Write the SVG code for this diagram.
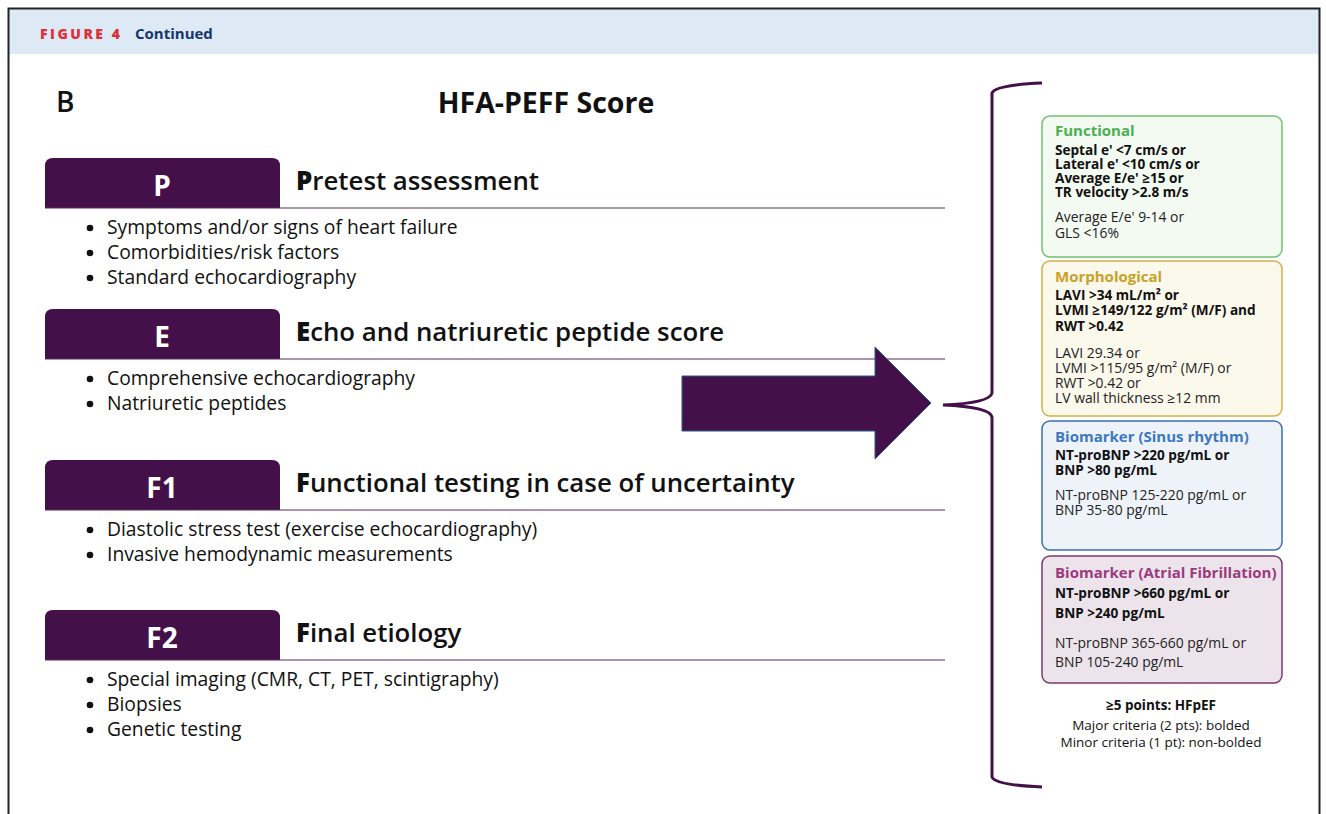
<svg xmlns="http://www.w3.org/2000/svg" width="1326" height="814" viewBox="0 0 1326 814">
<style>
.tab{fill:#43104a}
.rule{stroke:#5a2a5e;stroke-width:1.2}
.dot{fill:#111}
.tabl{font-family:"Open Sans",Lato,sans-serif;font-weight:700;font-size:28px;fill:#fff;text-anchor:middle}
.head{font-family:"Open Sans",Lato,sans-serif;font-size:25.8px;fill:#111;font-weight:600}
.head tspan.b{font-weight:800}
.bul{font-family:"Open Sans",Lato,sans-serif;font-size:19.3px;fill:#111;font-weight:500}
.bt{font-family:"Open Sans",Lato,sans-serif;font-size:13.6px;fill:#111;font-weight:700}
.nt{font-family:"Open Sans",Lato,sans-serif;font-size:13.9px;fill:#222;font-weight:400}
.ttl{font-family:"Open Sans",Lato,sans-serif;font-size:15px;font-weight:700}
.foot{font-family:"Open Sans",Lato,sans-serif;font-size:13.5px;fill:#111;text-anchor:middle}
</style>
<rect x="0" y="0" width="1326" height="814" fill="#fff"/>
<rect x="9" y="9" width="1310" height="45" fill="#dde9f5"/>
<rect x="8.5" y="8.5" width="1311" height="830" fill="none" stroke="#222" stroke-width="2"/>
<text x="40" y="39" font-family="'Open Sans',Lato,sans-serif" font-size="14" font-weight="800" letter-spacing="2.5" fill="#e0303a">FIGURE 4</text>
<text x="135" y="39" font-family="'Open Sans',Lato,sans-serif" font-size="15" font-weight="700" fill="#14366b">Continued</text>
<text x="56" y="112" font-family="'Open Sans',Lato,sans-serif" font-size="28" font-weight="600" fill="#111">B</text>
<text x="546" y="113" font-family="'Open Sans',Lato,sans-serif" font-size="28.5" font-weight="700" fill="#111" text-anchor="middle">HFA-PEFF Score</text>

<g id="sec-P">
<path class="tab" d="M45,208 V166 Q45,158 53,158 H272 Q280,158 280,166 V208 Z"/>
<line class="rule" x1="45" y1="208" x2="945" y2="208"/>
<text class="tabl" x="162" y="196">P</text>
<text class="head" x="296" y="190"><tspan class="b">P</tspan>retest assessment</text>
<circle class="dot" cx="90" cy="228" r="3.3"/><text class="bul" x="107" y="234">Symptoms and/or signs of heart failure</text>
<circle class="dot" cx="90" cy="253" r="3.3"/><text class="bul" x="107" y="259">Comorbidities/risk factors</text>
<circle class="dot" cx="90" cy="278" r="3.3"/><text class="bul" x="107" y="284">Standard echocardiography</text>
</g>
<g id="sec-E">
<path class="tab" d="M45,359 V317 Q45,309 53,309 H272 Q280,309 280,317 V359 Z"/>
<line class="rule" x1="45" y1="359" x2="945" y2="359"/>
<text class="tabl" x="162" y="347">E</text>
<text class="head" x="296" y="341"><tspan class="b">E</tspan>cho and natriuretic peptide score</text>
<circle class="dot" cx="90" cy="379" r="3.3"/><text class="bul" x="107" y="385">Comprehensive echocardiography</text>
<circle class="dot" cx="90" cy="404" r="3.3"/><text class="bul" x="107" y="410">Natriuretic peptides</text>
</g>
<g id="sec-F1">
<path class="tab" d="M45,510 V468 Q45,460 53,460 H272 Q280,460 280,468 V510 Z"/>
<line class="rule" x1="45" y1="510" x2="945" y2="510"/>
<text class="tabl" x="162" y="498">F1</text>
<text class="head" x="296" y="492"><tspan class="b">F</tspan>unctional testing in case of uncertainty</text>
<circle class="dot" cx="90" cy="530" r="3.3"/><text class="bul" x="107" y="536">Diastolic stress test (exercise echocardiography)</text>
<circle class="dot" cx="90" cy="555" r="3.3"/><text class="bul" x="107" y="561">Invasive hemodynamic measurements</text>
</g>
<g id="sec-F2">
<path class="tab" d="M45,660 V618 Q45,610 53,610 H272 Q280,610 280,618 V660 Z"/>
<line class="rule" x1="45" y1="660" x2="945" y2="660"/>
<text class="tabl" x="162" y="648">F2</text>
<text class="head" x="296" y="642"><tspan class="b">F</tspan>inal etiology</text>
<circle class="dot" cx="90" cy="680" r="3.3"/><text class="bul" x="107" y="686">Special imaging (CMR, CT, PET, scintigraphy)</text>
<circle class="dot" cx="90" cy="705" r="3.3"/><text class="bul" x="107" y="711">Biopsies</text>
<circle class="dot" cx="90" cy="730" r="3.3"/><text class="bul" x="107" y="736">Genetic testing</text>
</g>

<g id="connectors">
<path d="M682,376 H875 V347 L931,403 L875,459 V431 H682 Z" fill="#43104a" stroke="#2e5a8a" stroke-width="1"/>
<path d="M1042,83 Q995,85 992,93 V393 Q990,403 943,405 Q990,407 992,417 V777 Q995,785 1042,787" fill="none" stroke="#43104a" stroke-width="3"/>
</g>

<g id="box-functional">
<rect x="1042" y="116" width="240" height="141" rx="8" fill="#f3faf2" stroke="#72c072" stroke-width="1.5"/>
<text class="ttl" x="1055" y="136" fill="#4caf50">Functional</text>
<text class="bt" x="1055" y="155">Septal e' &lt;7 cm/s or</text>
<text class="bt" x="1055" y="169">Lateral e' &lt;10 cm/s or</text>
<text class="bt" x="1055" y="183">Average E/e' ≥15 or</text>
<text class="bt" x="1055" y="197">TR velocity &gt;2.8 m/s</text>
<text class="nt" x="1055" y="222">Average E/e' 9-14 or</text>
<text class="nt" x="1055" y="238">GLS &lt;16%</text>
</g>
<g id="box-morphological">
<rect x="1042" y="261" width="240" height="155" rx="8" fill="#fbf8ec" stroke="#d4b24a" stroke-width="1.5"/>
<text class="ttl" x="1055" y="282" fill="#c9a227">Morphological</text>
<text class="bt" x="1055" y="300">LAVI &gt;34 mL/m² or</text>
<text class="bt" x="1055" y="315">LVMI ≥149/122 g/m² (M/F) and</text>
<text class="bt" x="1055" y="331">RWT &gt;0.42</text>
<text class="nt" x="1055" y="358">LAVI 29.34 or</text>
<text class="nt" x="1055" y="373">LVMI &gt;115/95 g/m² (M/F) or</text>
<text class="nt" x="1055" y="388">RWT &gt;0.42 or</text>
<text class="nt" x="1055" y="403">LV wall thickness ≥12 mm</text>
</g>
<g id="box-biomarker-sinus">
<rect x="1042" y="421" width="240" height="129" rx="8" fill="#eef3f9" stroke="#3a6fb5" stroke-width="1.5"/>
<text class="ttl" x="1055" y="442" fill="#3c78c0">Biomarker (Sinus rhythm)</text>
<text class="bt" x="1055" y="460">NT-proBNP &gt;220 pg/mL or</text>
<text class="bt" x="1055" y="475">BNP &gt;80 pg/mL</text>
<text class="nt" x="1055" y="500">NT-proBNP 125-220 pg/mL or</text>
<text class="nt" x="1055" y="515">BNP 35-80 pg/mL</text>
</g>
<g id="box-biomarker-af">
<rect x="1042" y="556" width="240" height="127" rx="8" fill="#ece4ea" stroke="#7a3a6e" stroke-width="1.5"/>
<text class="ttl" x="1055" y="578" fill="#9b3a7e">Biomarker (Atrial Fibrillation)</text>
<text class="bt" x="1055" y="598">NT-proBNP &gt;660 pg/mL or</text>
<text class="bt" x="1055" y="618">BNP &gt;240 pg/mL</text>
<text class="nt" x="1055" y="648">NT-proBNP 365-660 pg/mL or</text>
<text class="nt" x="1055" y="667">BNP 105-240 pg/mL</text>
</g>
<g id="legend">
<text class="foot" x="1161" y="710" font-weight="700">≥5 points: HFpEF</text>
<text class="foot" x="1161" y="730">Major criteria (2 pts): bolded</text>
<text class="foot" x="1161" y="747">Minor criteria (1 pt): non-bolded</text>
</g>
</svg>
